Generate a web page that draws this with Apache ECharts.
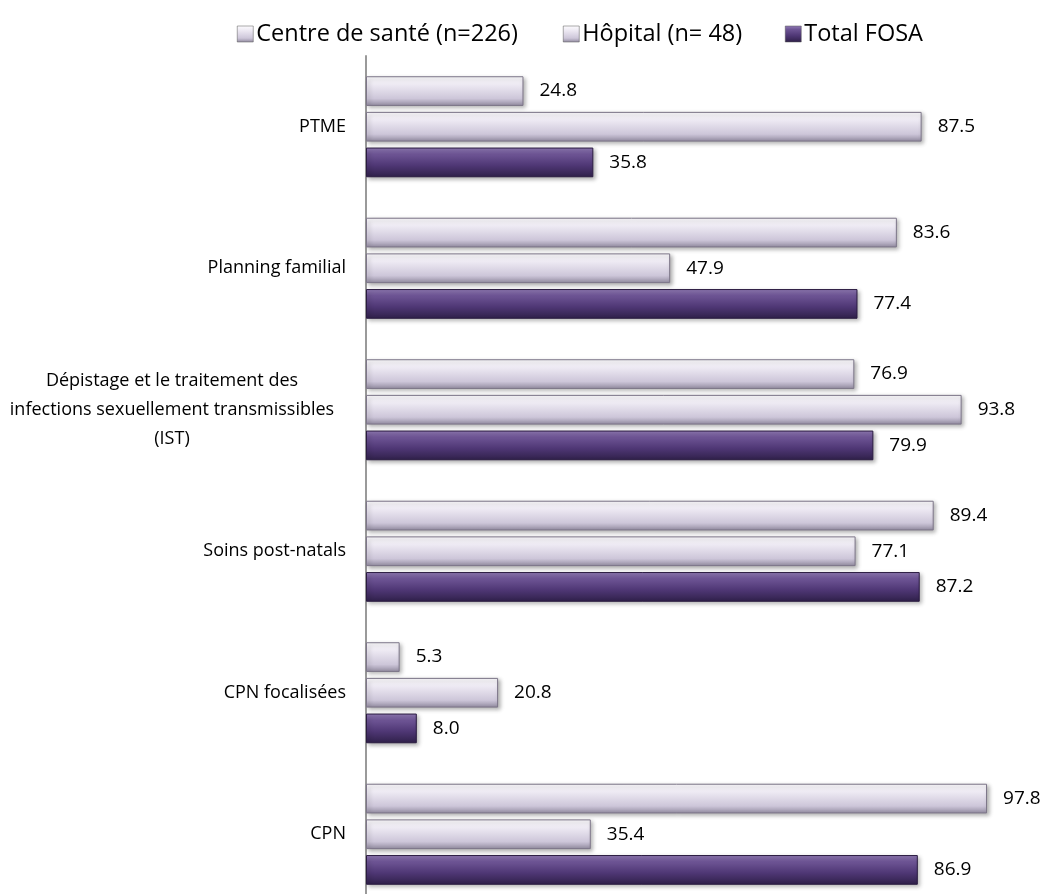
<!DOCTYPE html>
<html>
<head>
<meta charset="utf-8">
<title>Services offerts par type de FOSA</title>
<script src="https://cdn.jsdelivr.net/npm/echarts@6/dist/echarts.min.js"></script>
<style>
  html, body { margin: 0; padding: 0; background: #ffffff; overflow: hidden; }
  /* the plot runs slightly past the bottom edge of the page */
  #chart { width: 1041px; height: 910px; }
</style>
</head>
<body>
<div id="chart"></div>
<script>
// Services, listed from top to bottom
const categories = [
  'PTME',
  'Planning familial',
  'Dépistage et le traitement des\ninfections sexuellement transmissibles\n(IST)',
  'Soins post-natals',
  'CPN focalisées',
  'CPN'
];

const seriesNames = ['Centre de santé (n=226)', 'Hôpital (n= 48)', 'Total FOSA'];

// Percentages per service
const centreSante = [24.8, 83.6, 76.9, 89.4, 5.3, 97.8];
const hopital     = [87.5, 47.9, 93.8, 77.1, 20.8, 35.4];
const totalFosa   = [35.8, 77.4, 79.9, 87.2, 8.0, 86.9];

const FONT = '"Open Sans", "Liberation Sans", sans-serif';

// Bevelled fills: light lavender and deep purple
const lightFill = new echarts.graphic.LinearGradient(0, 0, 0, 1, [
  { offset: 0, color: '#fdfcfe' },
  { offset: 0.3, color: '#ece8f2' },
  { offset: 0.75, color: '#cdc6d9' },
  { offset: 1, color: '#918a9f' }
]);
const purpleFill = new echarts.graphic.LinearGradient(0, 0, 0, 1, [
  { offset: 0, color: '#927cb6' },
  { offset: 0.22, color: '#6e5595' },
  { offset: 0.6, color: '#4f3775' },
  { offset: 1, color: '#2f2049' }
]);

function barSeries(name, values, fill, border) {
  return {
    name: name,
    type: 'bar',
    data: values,
    barGap: '20%',
    barCategoryGap: '28.6%',
    itemStyle: {
      color: fill,
      borderColor: border,
      borderWidth: 1,
      shadowColor: 'rgba(0,0,0,0.3)',
      shadowBlur: 4,
      shadowOffsetX: 2,
      shadowOffsetY: 2
    },
    label: {
      show: true,
      position: 'right',
      distance: 16,
      color: '#000',
      fontFamily: FONT,
      fontSize: 19,
      formatter: p => p.value.toFixed(1)
    }
  };
}

function legendAt(left, name, fill) {
  return {
    left: left,
    top: 17,
    itemWidth: 16,
    itemHeight: 16,
    icon: 'rect',
    data: [{ name: name, itemStyle: { color: fill, borderColor: '#555', borderWidth: 0.5 } }],
    textStyle: { fontFamily: FONT, fontSize: 23.5, color: '#000', padding: [0, 0, 0, -2] }
  };
}

// Long labels are centred line by line to the left of the axis
const LABEL_MARGIN = 20;
const categoryData = categories.map(c => c.indexOf('\n') >= 0
  ? { value: c, textStyle: { align: 'center', lineHeight: 29, padding: [0, 348, 0, 0] } }
  : c);

const chart = echarts.init(document.getElementById('chart'));
chart.setOption({
  backgroundColor: '#ffffff',
  animation: false,
  legend: [
    legendAt(232, seriesNames[0], lightFill),
    legendAt(558, seriesNames[1], lightFill),
    legendAt(780, seriesNames[2], purpleFill)
  ],
  grid: { left: 366, right: 40, top: 56, height: 849, containLabel: false },
  xAxis: {
    type: 'value',
    min: 0,
    max: 100,
    show: false
  },
  yAxis: {
    type: 'category',
    inverse: true,
    data: categoryData,
    axisLine: { show: true, lineStyle: { color: '#9a9a9a', width: 2 } },
    axisTick: { show: false },
    axisLabel: {
      margin: LABEL_MARGIN,
      color: '#000',
      fontFamily: FONT,
      fontSize: 18
    }
  },
  series: [
    barSeries(seriesNames[0], centreSante, lightFill, '#7d7689'),
    barSeries(seriesNames[1], hopital, lightFill, '#7d7689'),
    barSeries(seriesNames[2], totalFosa, purpleFill, '#2a1b40')
  ]
});
</script>
</body>
</html>
